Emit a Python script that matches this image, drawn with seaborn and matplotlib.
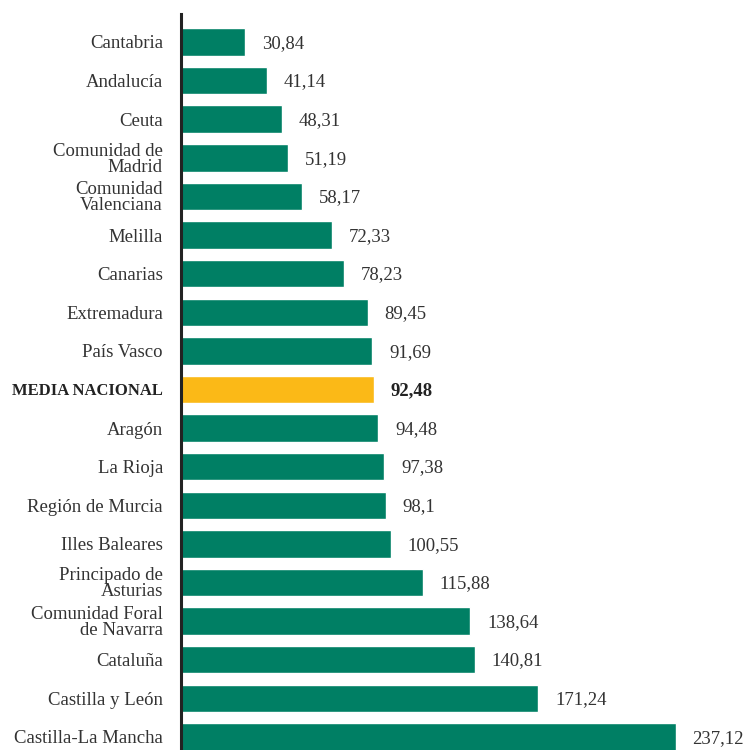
import matplotlib.pyplot as plt
import seaborn as sns
import pandas as pd

# Datos
regiones = [
    "Cantabria", "Andalucía", "Ceuta", "Comunidad de\nMadrid",
    "Comunidad\nValenciana", "Melilla", "Canarias", "Extremadura",
    "País Vasco", "MEDIA NACIONAL", "Aragón", "La Rioja",
    "Región de Murcia", "Illes Baleares", "Principado de\nAsturias",
    "Comunidad Foral\nde Navarra", "Cataluña", "Castilla y León",
    "Castilla-La Mancha",
]
valores = [30.84, 41.14, 48.31, 51.19, 58.17, 72.33, 78.23, 89.45, 91.69,
           92.48, 94.48, 97.38, 98.1, 100.55, 115.88, 138.64, 140.81,
           171.24, 237.12]
etiquetas = ["30,84", "41,14", "48,31", "51,19", "58,17", "72,33", "78,23",
             "89,45", "91,69", "92,48", "94,48", "97,38", "98,1", "100,55",
             "115,88", "138,64", "140,81", "171,24", "237,12"]

verde = "#007f64"
amarillo = "#fbb917"
texto = "#333333"

df = pd.DataFrame({"region": regiones, "valor": valores})
cores = [amarillo if r == "MEDIA NACIONAL" else verde for r in regiones]

sns.set_style("white")
plt.rcParams["font.family"] = ["Liberation Serif", "DejaVu Serif"]

fig = plt.figure(figsize=(7.5, 7.5), dpi=100)
ax = fig.add_axes([181 / 750, 0, 569 / 750, 736 / 750])

sns.barplot(data=df, x="valor", y="region", hue="region", palette=cores,
            legend=False, orient="h", width=0.71, ax=ax, saturation=1)

for i, (v, lab) in enumerate(zip(valores, etiquetas)):
    bold = regiones[i] == "MEDIA NACIONAL"
    ax.annotate(lab, (v, i), xytext=(12, -1), textcoords="offset points",
                va="center", ha="left", fontsize=13.5,
                color="#222222" if bold else texto,
                fontweight="bold" if bold else "normal")

ax.set_xlim(0, 272.6)
ax.set_ylim(18.34, -0.725)
ax.set_xlabel("")
ax.set_ylabel("")
ax.set_xticks([])
ax.tick_params(axis="y", length=0, pad=13, labelsize=13.5, labelcolor=texto)
for t in ax.get_yticklabels():
    t.set_linespacing(0.9)
    t.set_multialignment("right")
    if t.get_text() == "MEDIA NACIONAL":
        t.set_fontweight("bold")
        t.set_fontsize(12)
        t.set_color("#222222")

for s in ["top", "right", "bottom"]:
    ax.spines[s].set_visible(False)
ax.spines["left"].set_linewidth(2.2)
ax.spines["left"].set_color("#222222")

fig.savefig("out.png", dpi=100)
